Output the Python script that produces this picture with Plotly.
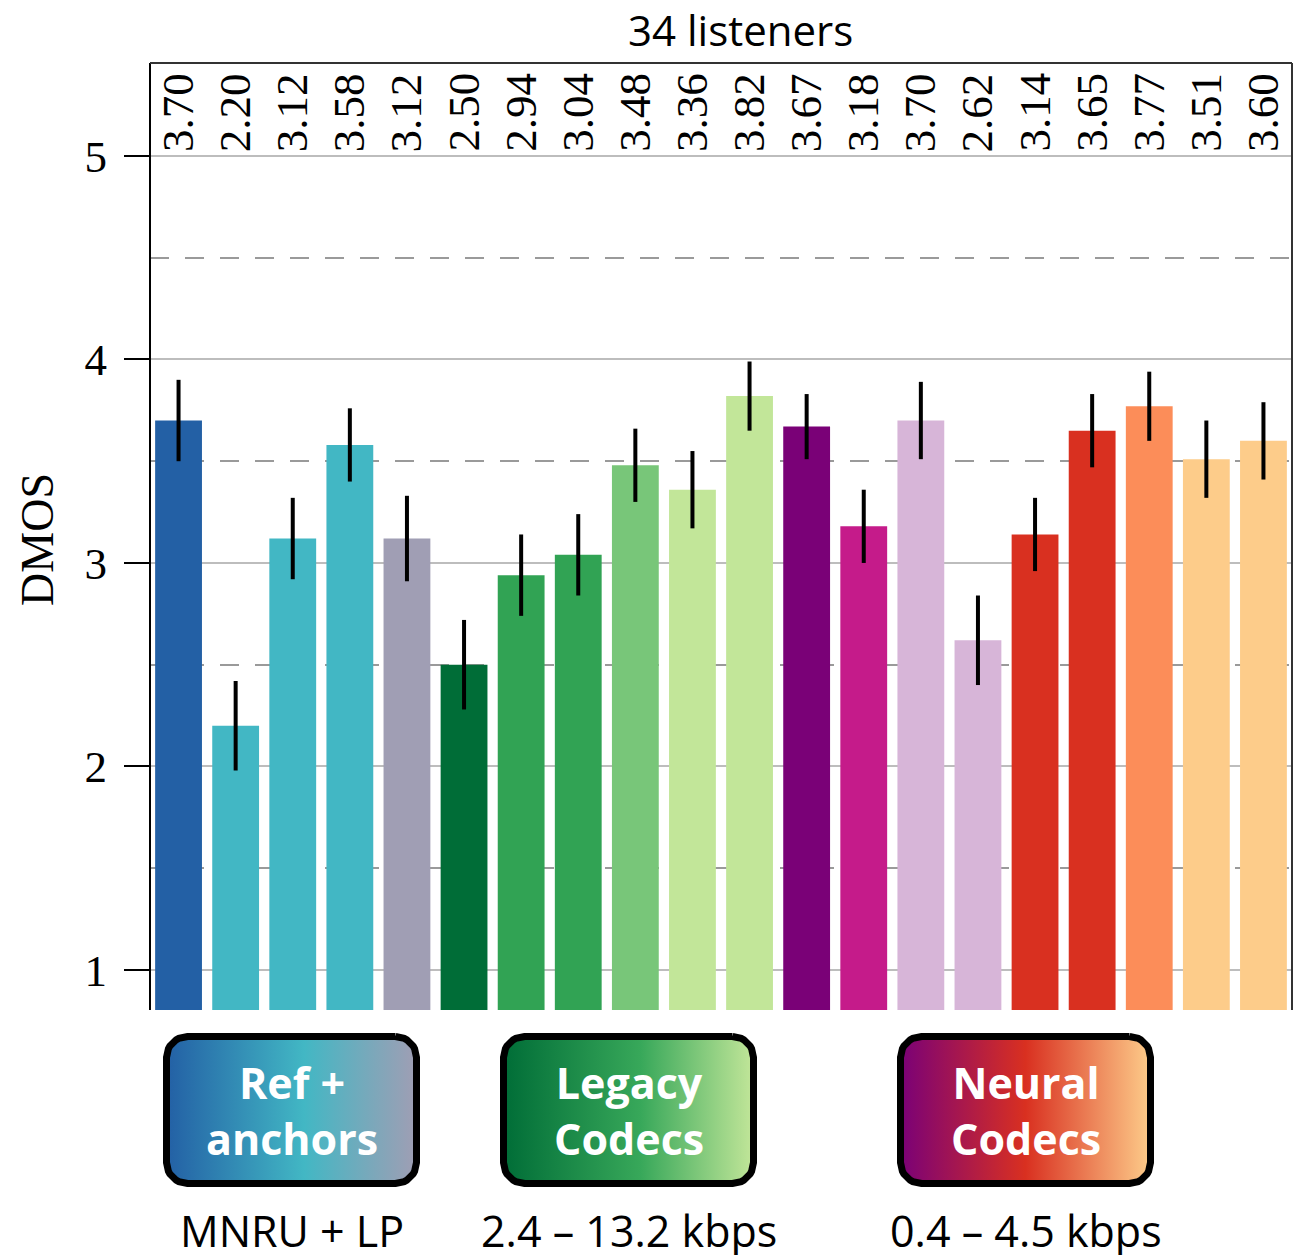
import numpy as np
import plotly.graph_objects as go

# DMOS per test condition (20 conditions, left to right)
dmos = [3.70, 2.20, 3.12, 3.58, 3.12, 2.50, 2.94, 3.04, 3.48, 3.36,
        3.82, 3.67, 3.18, 3.70, 2.62, 3.14, 3.65, 3.77, 3.51, 3.60]
# 95% confidence half-widths
ci = [0.20, 0.22, 0.20, 0.18, 0.21, 0.22, 0.20, 0.20, 0.18, 0.19,
      0.17, 0.16, 0.18, 0.19, 0.22, 0.18, 0.18, 0.17, 0.19, 0.19]
bar_colors = ["#2360a5", "#42b7c4", "#42b7c4", "#42b7c4", "#a09eb4",
              "#006d37", "#31a354", "#31a354", "#78c679", "#c2e699",
              "#c2e699", "#7a0177", "#c51b8a", "#d7b5d8", "#d7b5d8",
              "#d93020", "#d93020", "#fc8d59", "#fdcc8a", "#fdcc8a"]

group_titles = ["Ref +<br>anchors", "Legacy<br>Codecs", "Neural<br>Codecs"]
group_notes = ["MNRU + LP", "2.4 – 13.2 kbps", "0.4 – 4.5 kbps"]
group_gradients = [
    [[0, "#2360a5"], [0.55, "#42b7c4"], [1, "#a09eb4"]],
    [[0, "#006d37"], [0.55, "#38a85a"], [1, "#c2e699"]],
    [[0, "#7a0177"], [0.5, "#d93020"], [1, "#fdcc8a"]],
]
# group box placement in the pixel-based lower panel
box_left = [163, 500, 897]
box_width = 257
box_top, box_bottom = 1033, 1187

positions = list(range(len(dmos)))
fig = go.Figure()

fig.add_trace(go.Bar(
    x=positions, y=dmos, marker=dict(color=bar_colors, line=dict(width=0)),
    width=0.82,
    error_y=dict(type="data", array=ci, visible=True, color="black",
                 thickness=4, width=0),
    showlegend=False, hoverinfo="y",
))


def rounded_rect(x0, x1, y0, y1, r, n=12):
    xs, ys = [], []
    corners = [(x1 - r, y0 + r, -90, 0), (x1 - r, y1 - r, 0, 90),
               (x0 + r, y1 - r, 90, 180), (x0 + r, y0 + r, 180, 270)]
    for cx, cy, a0, a1 in corners:
        t = np.radians(np.linspace(a0, a1, n))
        xs.extend(cx + r * np.cos(t))
        ys.extend(cy + r * np.sin(t))
    xs.append(xs[0])
    ys.append(ys[0])
    return xs, ys


inset = 3.5
for left, grad in zip(box_left, group_gradients):
    xs, ys = rounded_rect(left + inset, left + box_width - inset,
                          box_top + inset, box_bottom - inset, 21)
    fig.add_trace(go.Scatter(
        x=xs, y=ys, xaxis="x2", yaxis="y2", mode="lines", fill="toself",
        fillgradient=dict(type="horizontal", colorscale=grad),
        line=dict(color="black", width=7), showlegend=False, hoverinfo="skip",
    ))

annotations = []
for xi, v in zip(positions, dmos):
    annotations.append(dict(
        x=xi, y=5, xref="x", yref="y", text=f"{v:.2f}", textangle=-90,
        showarrow=False, yanchor="bottom", xanchor="center", yshift=2,
        font=dict(family="Liberation Serif", size=45, color="black"),
    ))

for left, title, note in zip(box_left, group_titles, group_notes):
    cx = left + box_width / 2
    annotations.append(dict(
        x=cx, y=(box_top + box_bottom) / 2, xref="x2", yref="y2", text=title,
        showarrow=False, xanchor="center", yanchor="middle",
        font=dict(family="Open Sans", size=43, color="white", weight="bold"),
    ))
    annotations.append(dict(
        x=cx, y=1230, xref="x2", yref="y2", text=note, showarrow=False,
        xanchor="center", yanchor="middle", height=50,
        font=dict(family="Open Sans", size=43, color="black"),
    ))

annotations.append(dict(
    x=740, y=1.0276, xref="x2", yref="paper", text="34 listeners",
    showarrow=False, xanchor="center", yanchor="middle",
    font=dict(family="Open Sans", size=42, color="black"),
))
annotations.append(dict(
    x=-0.099, y=0.602, xref="paper", yref="paper", text="DMOS",
    textangle=-90, showarrow=False, xanchor="center", yanchor="middle",
    font=dict(family="Liberation Serif", size=46, color="black"),
))

main_bottom = 249 / 1196

fig.update_layout(
    width=1301, height=1259,
    margin=dict(l=150, r=9, t=63, b=0),
    paper_bgcolor="white", plot_bgcolor="white",
    bargap=0.18,
    xaxis=dict(range=[-0.5, 19.5], showticklabels=False, showgrid=False,
               zeroline=False, ticks="", showline=False, fixedrange=True),
    yaxis=dict(domain=[main_bottom, 1], range=[0.803, 5.457],
               tickmode="array", tickvals=[1, 2, 3, 4, 5],
               ticktext=["1", "2", "3", "4", "5"],
               ticks="outside", ticklen=25, tickwidth=2, tickcolor="black",
               ticklabelstandoff=8,
               tickfont=dict(family="Liberation Serif", size=45, color="black"),
               showgrid=True, gridcolor="#bdbdbd", gridwidth=2,
               minor=dict(tickmode="array", tickvals=[1.5, 2.5, 3.5, 4.5],
                          showgrid=True, gridcolor="#9a9a9a", gridwidth=2,
                          griddash="19px,16px", ticks=""),
               zeroline=False, showline=False),
    xaxis2=dict(domain=[0, 1], range=[150, 1292], anchor="y2", visible=False,
                fixedrange=True),
    yaxis2=dict(domain=[0, main_bottom], range=[1259, 1010], anchor="x2",
                visible=False, fixedrange=True),
    annotations=annotations,
    shapes=[
        dict(type="line", xref="x domain", yref="y domain", x0=0, x1=0,
             y0=0, y1=1, line=dict(color="black", width=2)),
        dict(type="line", xref="x domain", yref="y domain", x0=1, x1=1,
             y0=0, y1=1, line=dict(color="#333333", width=2)),
        dict(type="line", xref="x domain", yref="y domain", x0=0, x1=1,
             y0=1, y1=1, line=dict(color="#333333", width=2)),
    ],
)

fig.write_html("out.html")
